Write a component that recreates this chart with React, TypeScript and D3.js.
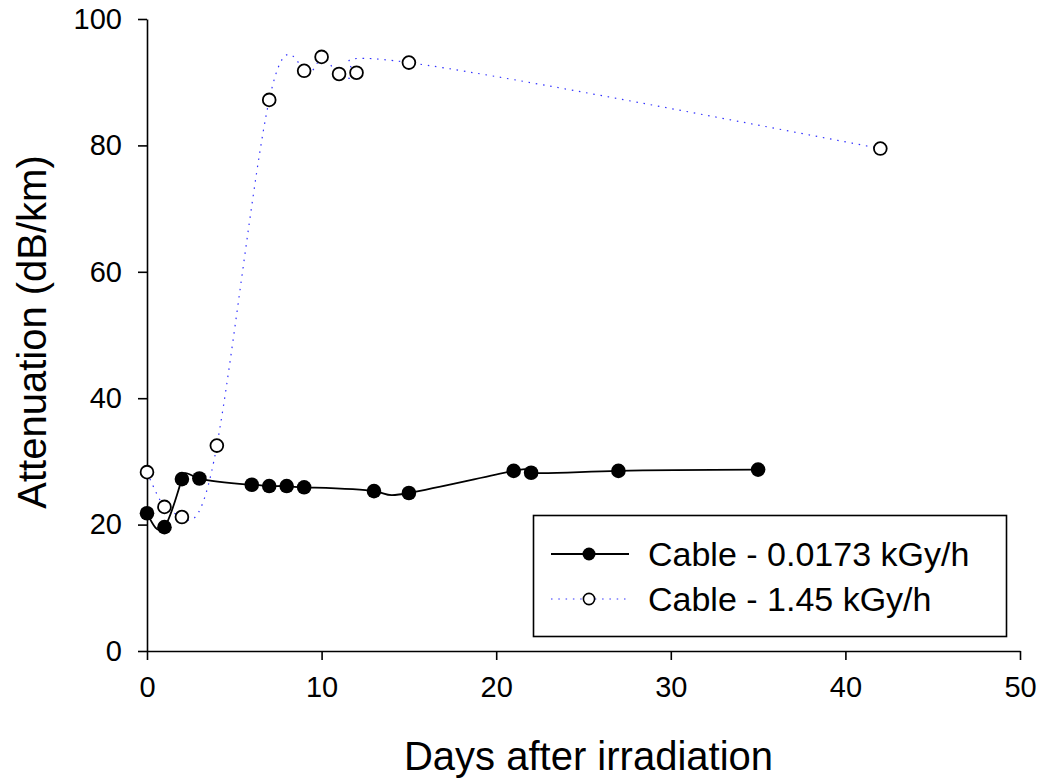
import React, { useEffect, useRef } from "react";
import * as d3 from "d3";

// days after irradiation and attenuation (dB/km)
const lowDays = [0, 1, 2, 3, 6, 7, 8, 9, 13, 15, 21, 22, 27, 35];
const lowAtten = [21.8, 19.6, 27.2, 27.3, 26.3, 26.1, 26.1, 25.9, 25.3, 25.0, 28.5, 28.2, 28.5, 28.7];
const highDays = [0, 1, 2, 4, 7, 9, 10, 11, 12, 15, 42];
const highAtten = [28.3, 22.8, 21.2, 32.5, 87.2, 91.8, 94.0, 91.3, 91.5, 93.1, 79.5];

const xTicks = [0, 10, 20, 30, 40, 50];
const yTicks = [0, 20, 40, 60, 80, 100];
const legendLabels = ["Cable - 0.0173 kGy/h", "Cable - 1.45 kGy/h"];

const W = 1040;
const H = 779;
const FONT = "'Liberation Sans', Arial, sans-serif";

const App = () => {
  const svgRef = useRef<SVGSVGElement>(null);

  useEffect(() => {
    const svg = d3.select(svgRef.current);
    svg.selectAll("*").remove();

    const x = d3.scaleLinear().domain([0, 50]).range([147, 1020]);
    const y = d3.scaleLinear().domain([0, 100]).range([651, 19]);

    const g = svg.append("g").attr("font-family", FONT);

    // axes
    const xAxis = g
      .append("g")
      .attr("transform", `translate(0,${y(0)})`)
      .call(d3.axisBottom(x).tickValues(xTicks).tickSize(9).tickPadding(16).tickSizeOuter(0));
    const yAxis = g
      .append("g")
      .attr("transform", `translate(${x(0)},0)`)
      .call(d3.axisLeft(y).tickValues(yTicks).tickSize(9).tickPadding(16).tickSizeOuter(0));
    [xAxis, yAxis].forEach((a) => {
      a.select(".domain").attr("stroke", "#000").attr("stroke-width", 1.6);
      a.selectAll(".tick line").attr("stroke", "#000").attr("stroke-width", 1.6);
      a.selectAll(".tick text").attr("fill", "#000").attr("font-size", 29).attr("font-family", FONT);
    });

    g.append("text")
      .attr("x", (x(0) + x(50)) / 2 + 5)
      .attr("y", 770)
      .attr("text-anchor", "middle")
      .attr("font-size", 40)
      .text("Days after irradiation");
    g.append("text")
      .attr("transform", `translate(46,${(y(0) + y(100)) / 2 - 3}) rotate(-90)`)
      .attr("text-anchor", "middle")
      .attr("font-size", 40)
      .text("Attenuation (dB/km)");

    const lowPts = lowDays.map((d, i) => [d, lowAtten[i]] as [number, number]);
    const highPts = highDays.map((d, i) => [d, highAtten[i]] as [number, number]);

    const line = d3
      .line<[number, number]>()
      .x((d) => x(d[0]))
      .y((d) => y(d[1]))
      .curve(d3.curveNatural);

    g.append("path")
      .attr("d", line(highPts))
      .attr("fill", "none")
      .attr("stroke", "#3030ff")
      .attr("stroke-width", 1.2)
      .attr("stroke-dasharray", "1.5,5.8");

    g.append("path")
      .attr("d", line(lowPts))
      .attr("fill", "none")
      .attr("stroke", "#000")
      .attr("stroke-width", 1.8);

    g.append("g")
      .selectAll("circle")
      .data(highPts)
      .join("circle")
      .attr("cx", (d) => x(d[0]))
      .attr("cy", (d) => y(d[1]))
      .attr("r", 6.4)
      .attr("fill", "#fff")
      .attr("stroke", "#000")
      .attr("stroke-width", 1.8);

    g.append("g")
      .selectAll("circle")
      .data(lowPts)
      .join("circle")
      .attr("cx", (d) => x(d[0]))
      .attr("cy", (d) => y(d[1]))
      .attr("r", 7.3)
      .attr("fill", "#000");

    // legend
    const lg = g.append("g");
    lg.append("rect")
      .attr("x", 533.5)
      .attr("y", 515.5)
      .attr("width", 473)
      .attr("height", 121)
      .attr("fill", "#fff")
      .attr("stroke", "#000")
      .attr("stroke-width", 1.6);
    const rows = [554, 599];
    lg.append("line")
      .attr("x1", 551).attr("x2", 629)
      .attr("y1", rows[0]).attr("y2", rows[0])
      .attr("stroke", "#000").attr("stroke-width", 1.8);
    lg.append("circle").attr("cx", 589).attr("cy", rows[0]).attr("r", 6.5).attr("fill", "#000");
    lg.append("line")
      .attr("x1", 551).attr("x2", 629)
      .attr("y1", rows[1]).attr("y2", rows[1])
      .attr("stroke", "#3030ff").attr("stroke-width", 1.2)
      .attr("stroke-dasharray", "1.5,5.8");
    lg.append("circle")
      .attr("cx", 589).attr("cy", rows[1]).attr("r", 5.6)
      .attr("fill", "#fff").attr("stroke", "#000").attr("stroke-width", 1.6);
    lg.selectAll("text.lab")
      .data(legendLabels)
      .join("text")
      .attr("class", "lab")
      .attr("x", 648)
      .attr("y", (_, i) => rows[i] + 12)
      .attr("font-size", 34)
      .text((d) => d);
  }, []);

  return (
    <svg
      ref={svgRef}
      width={W}
      height={H}
      style={{ position: "absolute", left: 0, top: 0, background: "#fff" }}
    />
  );
};

export default App;
